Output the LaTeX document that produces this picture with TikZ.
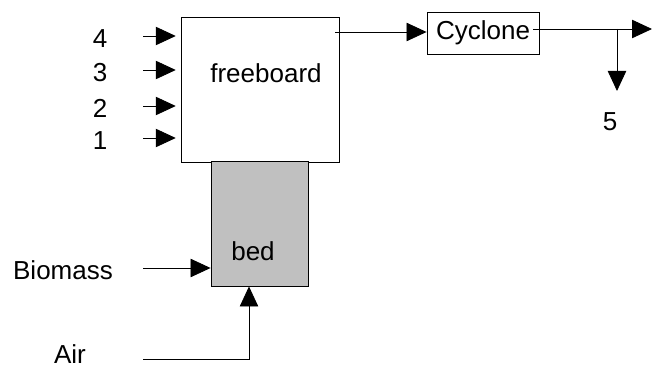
\documentclass[tikz,border=0pt]{standalone}
\usepackage{fontspec}
\setmainfont{Liberation Sans}
\usetikzlibrary{arrows.meta,positioning}
\definecolor{bedgray}{HTML}{C0C0C0}

\begin{document}
\begin{tikzpicture}[x=0.025cm, y=-0.025cm, line width=0.6pt,
    font=\fontsize{18.5}{22}\selectfont,
    unit/.style={draw, inner sep=0pt},
    txt/.style={inner sep=0pt},
    flow/.style={-{Triangle[length=0.5cm, width=0.46cm]}}]
  \useasboundingbox (0,0) rectangle (652,367);
  % reactor: freeboard with the bed below it
  \node (fb) [unit, minimum width=3.95cm, minimum height=3.625cm] at (260,89.5) {};
  \node (fbtext) [txt] at (266,73) {freeboard};
  \node (bed) [unit, fill=bedgray, minimum width=2.425cm, minimum height=3.125cm] at (259.5,223.5) {};
  \node (bedtext) [txt] at (253,251) {bed};
  \node (cy) [unit, minimum width=2.8cm, minimum height=1.05cm] at (483,33) {Cyclone};

  % side feeds into the freeboard
  \foreach \n/\y in {4/36,3/70,2/106,1/138} {
    \node (in\n) [txt] at (100,\y+2.5) {\n};
    \coordinate (s\n) at (143,\y);
    \draw[flow, shorten >=0.12cm] (s\n) -- (fb.west |- s\n);
  }

  % gas to the cyclone, then out
  \coordinate (fbout) at (335,32);
  \draw[flow] (fbout) -- (fbout -| cy.west);
  \coordinate (cyout) at (533,29);
  \coordinate (gas) at (652,29);
  \coordinate (split) at (617,29);
  \coordinate (solids) at (617,91);
  \draw[flow] (cyout) -- (gas);
  \draw[flow] (split) -- (solids);
  \node (out5) [txt] at (610,122) {5};

  % bed feeds
  \node (biomass) [txt] at (63,270) {Biomass};
  \coordinate (bm) at (143,268);
  \draw[flow] (bm) -- (bed.west |- bm);
  \node (air) [txt] at (70,354) {Air};
  \coordinate (airin) at (143,359);
  \draw[flow] (airin) -| ([xshift=-0.2625cm]bed.south);
\end{tikzpicture}
\end{document}
